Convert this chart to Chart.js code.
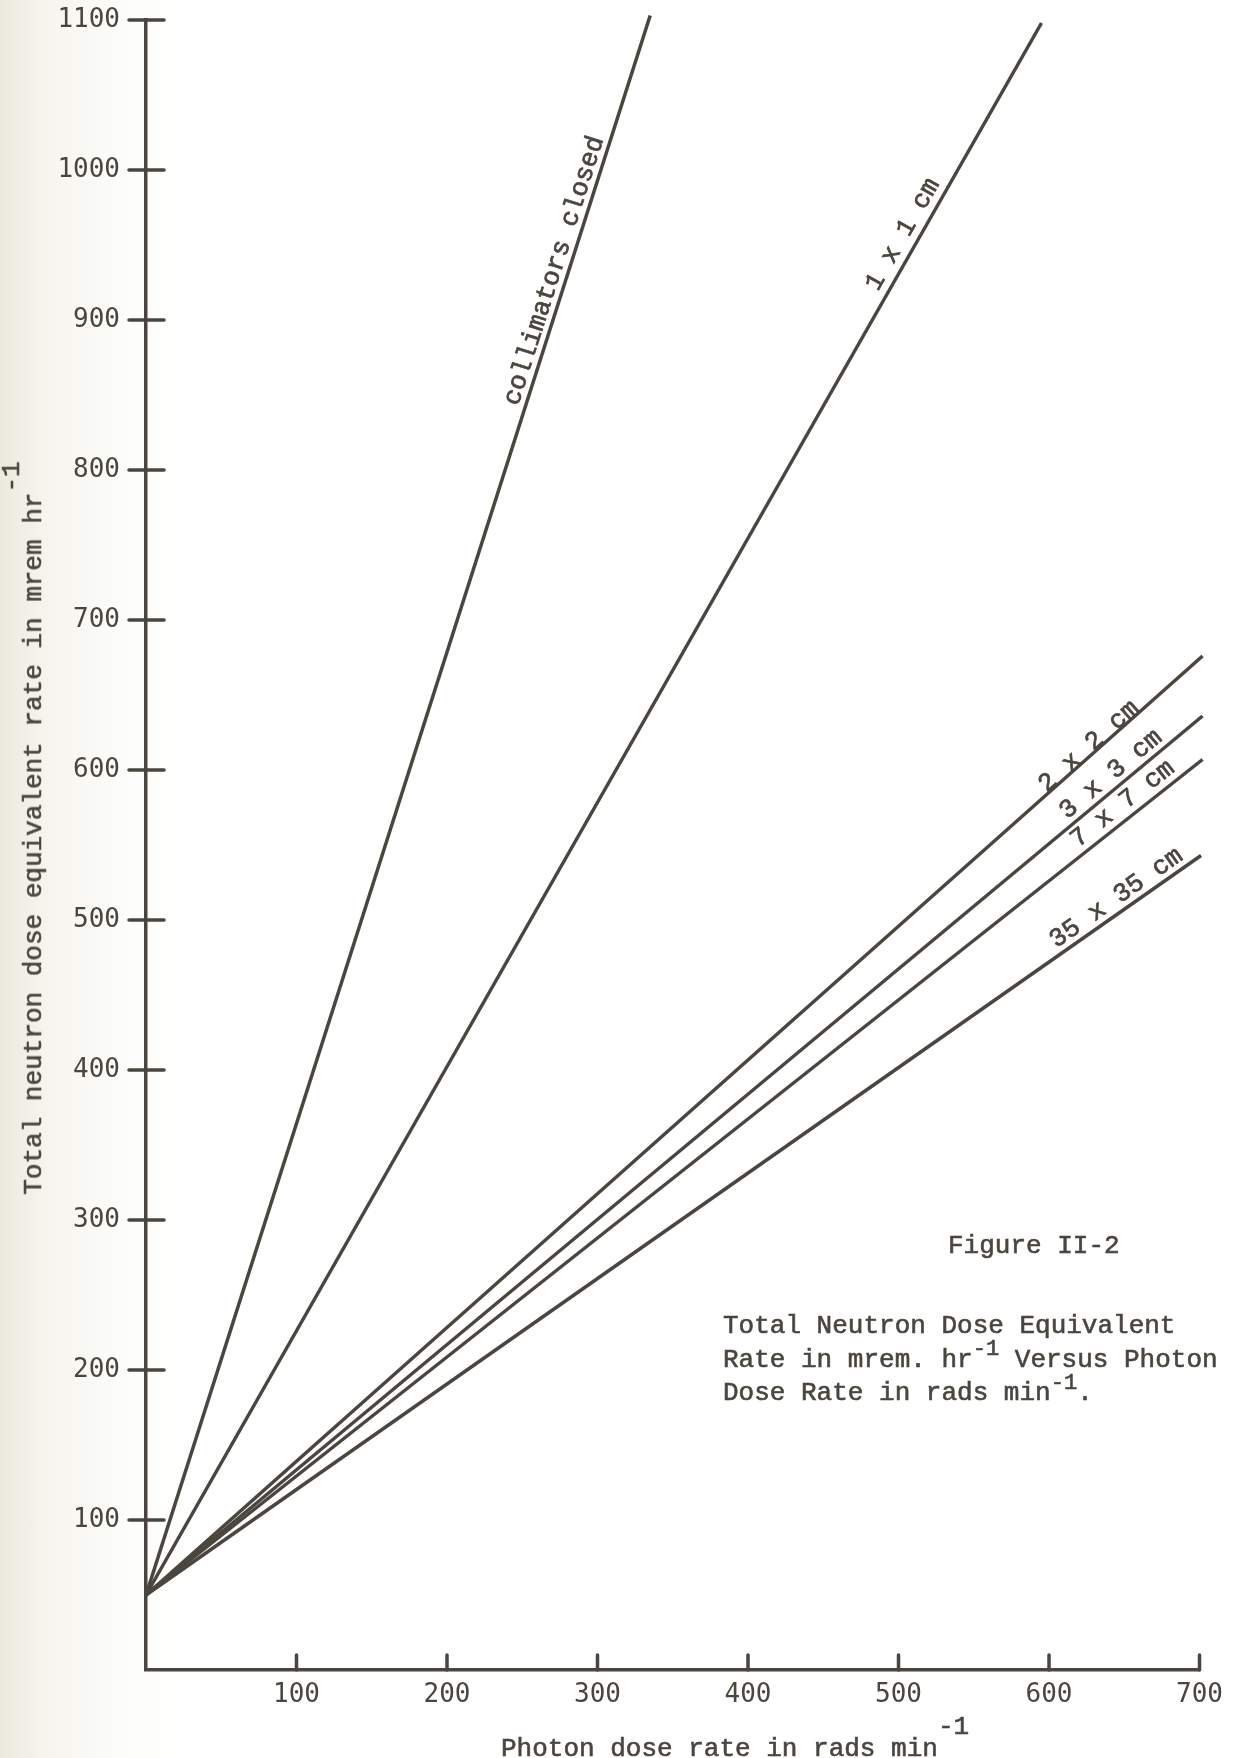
<!DOCTYPE html>
<html>
<head>
<meta charset="utf-8">
<script src="https://cdn.jsdelivr.net/npm/chart.js@4"></script>
<style>
  body {
    margin: 0;
    width: 1233px;
    height: 1758px;
    overflow: hidden;
    position: relative;
    background: linear-gradient(to right, #eceadf 0px, #f6f5ef 50px, #fdfdfb 130px, #ffffff 200px);
    font-family: "Liberation Mono", "DejaVu Sans Mono", monospace;
    color: #4a453e;
  }
  #chart { position: absolute; left: 0; top: 0; }
  .txt { position: absolute; white-space: nowrap; font-size: 26px; line-height: 1; -webkit-text-stroke: 0.6px #4a453e; }
  .sup { font-size: 100%; position: relative; top: -0.85em; line-height: 0; }
  .csup { font-size: 85%; position: relative; top: -0.5em; line-height: 0; }
  #ytitle {
    left: 34px; top: 828px;
    font-size: 26px;
    transform: translate(-50%, -50%) rotate(-90deg);
  }
  #xtitle { left: 501px; top: 1736px; }
  #fig { left: 948px; top: 1233px; }
  #caption { left: 723px; top: 1310px; line-height: 33.5px; }
</style>
</head>
<body>
<canvas id="chart" width="1233" height="1758"></canvas>

<div class="txt" id="ytitle">Total neutron dose equivalent rate in mrem hr<span class="sup">-1</span></div>
<div class="txt" id="xtitle">Photon dose rate in rads min<span class="sup">-1</span></div>
<div class="txt" id="fig">Figure II-2</div>
<div class="txt" id="caption">Total Neutron Dose Equivalent<br>Rate in mrem. hr<span class="csup">-1</span> Versus Photon<br>Dose Rate in rads min<span class="csup">-1</span>.</div>

<script>
// Field sizes and line end points
const fieldLabels = ['collimators closed', '1 x 1 cm', '2 x 2 cm', '3 x 3 cm', '7 x 7 cm', '35 x 35 cm'];
const startPhoton = [0, 0, 0, 0, 0, 0];
const startNeutron = [50, 50, 50, 50, 50, 50];
const endPhoton = [335, 595, 702, 702, 702, 701];
const endNeutron = [1103, 1098, 676, 636, 607, 543];

// where along each line (photon dose rate) the label sits
const labelAt = [280, 512, 630, 647, 655, 650];
const labelGap = [7, 9, 1, 7, 8, 7];

const xTicks = [100, 200, 300, 400, 500, 600, 700];
const yTicks = [100, 200, 300, 400, 500, 600, 700, 800, 900, 1000, 1100];

const ink = '#4a453e';

const datasets = fieldLabels.map((name, i) => ({
    label: name,
    data: [
        { x: startPhoton[i], y: startNeutron[i] },
        { x: endPhoton[i], y: endNeutron[i] }
    ],
    borderColor: ink,
    borderWidth: 3.5,
    pointRadius: 0,
    clip: false
}));

// hand drawn style tick marks: y ticks cross the axis, x ticks point up
const tickMarks = {
    id: 'tickMarks',
    afterDraw(chart) {
        const ctx = chart.ctx;
        const xs = chart.scales.x, ys = chart.scales.y;
        const x0 = xs.getPixelForValue(0);
        const y0 = ys.getPixelForValue(0);
        ctx.save();
        ctx.strokeStyle = ink;
        ctx.lineWidth = 3.5;
        ctx.lineCap = 'round';
        yTicks.forEach(v => {
            const py = ys.getPixelForValue(v);
            ctx.beginPath();
            ctx.moveTo(x0 - 17, py);
            ctx.lineTo(x0 + 18, py);
            ctx.stroke();
        });
        xTicks.forEach(v => {
            const px = xs.getPixelForValue(v);
            ctx.beginPath();
            ctx.moveTo(px, y0);
            ctx.lineTo(px, y0 - 15);
            ctx.stroke();
        });
        ctx.restore();
    }
};

// labels written along each line
const lineLabels = {
    id: 'lineLabels',
    afterDatasetsDraw(chart) {
        const ctx = chart.ctx;
        const xs = chart.scales.x, ys = chart.scales.y;
        ctx.save();
        ctx.fillStyle = ink;
        ctx.strokeStyle = ink;
        ctx.lineWidth = 0.7;
        ctx.textAlign = 'center';
        ctx.textBaseline = 'alphabetic';
        ctx.font = '26px "Liberation Mono", monospace';
        fieldLabels.forEach((name, i) => {
            const ax = xs.getPixelForValue(startPhoton[i]);
            const ay = ys.getPixelForValue(startNeutron[i]);
            const bx = xs.getPixelForValue(endPhoton[i]);
            const by = ys.getPixelForValue(endNeutron[i]);
            const angle = Math.atan2(by - ay, bx - ax);
            const t = (labelAt[i] - startPhoton[i]) / (endPhoton[i] - startPhoton[i]);
            const vy = startNeutron[i] + t * (endNeutron[i] - startNeutron[i]);
            const px = xs.getPixelForValue(labelAt[i]);
            const py = ys.getPixelForValue(vy);
            ctx.save();
            ctx.translate(px, py);
            ctx.rotate(angle);
            ctx.fillText(name, 0, -labelGap[i]);
            ctx.strokeText(name, 0, -labelGap[i]);
            ctx.restore();
        });
        ctx.restore();
    }
};

new Chart(document.getElementById('chart'), {
    type: 'line',
    data: { datasets: datasets },
    options: {
        responsive: false,
        devicePixelRatio: 1,
        animation: false,
        layout: { padding: { top: 20, right: 31, left: 0, bottom: 0 } },
        plugins: {
            legend: { display: false },
            tooltip: { enabled: false }
        },
        scales: {
            x: {
                type: 'linear',
                min: 0,
                max: 700,
                afterFit: scale => { scale.height = 88; },
                afterBuildTicks: scale => { scale.ticks = [0].concat(xTicks).map(v => ({ value: v })); },
                ticks: {
                    callback: v => v === 0 ? '' : v,
                    font: { family: 'DejaVu Sans Mono', size: 26 },
                    color: ink,
                    padding: 10,
                    maxRotation: 0
                },
                grid: { drawOnChartArea: false, drawTicks: false },
                border: { display: true, color: ink, width: 3.5 }
            },
            y: {
                type: 'linear',
                min: 0,
                max: 1100,
                afterFit: scale => {
                    scale.width = 146;
                    scale.paddingTop = 0;
                    scale.paddingBottom = 0;
                },
                afterBuildTicks: scale => { scale.ticks = [0].concat(yTicks).map(v => ({ value: v })); },
                ticks: {
                    callback: v => v === 0 ? '' : v,
                    font: { family: 'DejaVu Sans Mono', size: 26 },
                    color: ink,
                    padding: 26
                },
                grid: { drawOnChartArea: false, drawTicks: false },
                border: { display: true, color: ink, width: 3.5 }
            }
        }
    },
    plugins: [tickMarks, lineLabels]
});
</script>
</body>
</html>
